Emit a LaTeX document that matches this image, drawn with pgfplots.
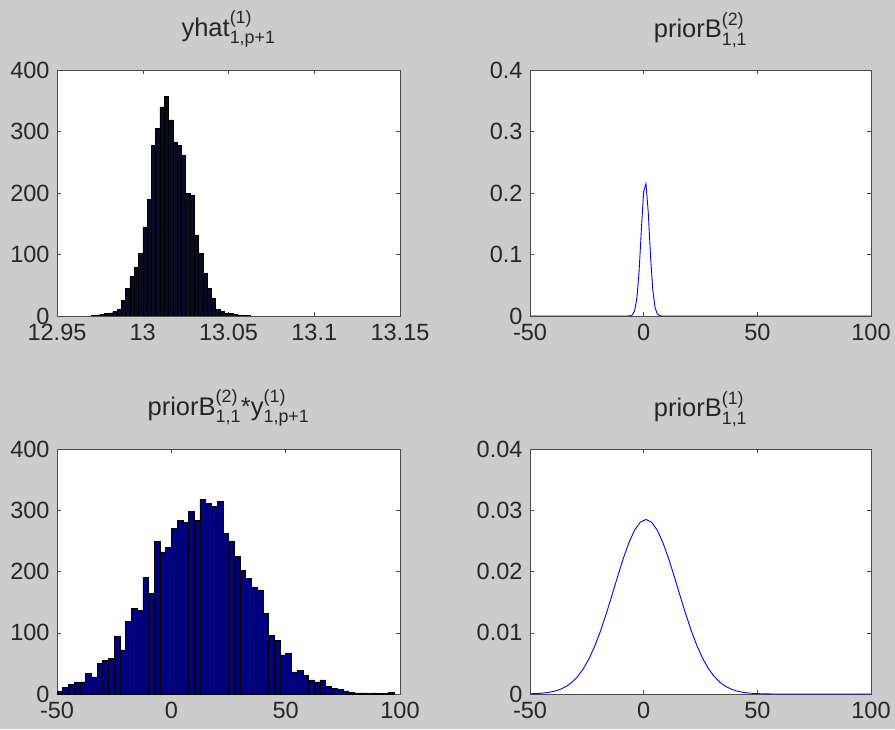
\documentclass[border=0pt]{standalone}
\usepackage{fontspec}
\setmainfont{Liberation Sans}
\usepackage{amsmath}
\usepackage{pgfplots}
\pgfplotsset{compat=1.18}
\definecolor{bg}{RGB}{204,204,204}
\definecolor{navy}{RGB}{0,0,128}
\definecolor{darkbar}{RGB}{10,10,34}
\definecolor{mblue}{RGB}{0,0,255}
\newcommand{\fs}{\fontsize{23.5}{28}\selectfont}
\newcommand{\fst}{\fontsize{25.5}{30}\selectfont}
\pgfplotsset{mat/.style={scale only axis, axis background/.style={fill=white},
  tick align=inside, major tick length=4pt,
  axis line style={black!70,line width=0.6pt},
  every tick/.style={black!70,line width=0.5pt},
  ticklabel style={font=\fs, text=black!85},
  xticklabel style={yshift=-5pt},
  yticklabel style={xshift=-4pt},
  title style={font=\fst, text=black!85, yshift=13pt},
  enlargelimits=false, scaled ticks=false, anchor=south west}}

\begin{document}
\begin{tikzpicture}[x=1pt,y=1pt]
\fill[bg] (0,0) rectangle (895,729);

% top-left histogram
\begin{axis}[mat, at={(57pt,413pt)}, width=343pt, height=246pt,
  xmin=12.95, xmax=13.15, ymin=0, ymax=400,
  xtick={12.95,13,13.05,13.1,13.15}, xticklabels={12.95,13,13.05,13.1,13.15},
  ytick={0,100,200,300,400}, yticklabels={0,100,200,300,400},
  title={yhat$^{\text{(1)}}_{\text{1,p+1}}$}]
\addplot[ybar interval, fill=darkbar, draw=black, line width=0.4pt] coordinates {
(12.9700,1) (12.9725,2) (12.9750,3) (12.9775,4) (12.9800,5) (12.9825,7)
(12.9850,11) (12.9875,26) (12.9900,45) (12.9925,64) (12.9950,80) (12.9975,102)
(13.0000,145) (13.0025,190) (13.0050,278) (13.0075,305) (13.0100,340) (13.0125,357)
(13.0150,319) (13.0175,283) (13.0200,278) (13.0225,262) (13.0250,199) (13.0275,197)
(13.0300,132) (13.0325,102) (13.0350,69) (13.0375,45) (13.0400,29) (13.0425,11)
(13.0450,7) (13.0475,5) (13.0500,4) (13.0525,3) (13.0550,2) (13.0575,1)
(13.0600,1) (13.0625,0)};
\end{axis}

% top-right density
\begin{axis}[mat, at={(530pt,413pt)}, width=341pt, height=246pt,
  xmin=-50, xmax=100, ymin=0, ymax=0.4,
  xtick={-50,0,50,100}, xticklabels={-50,0,50,100},
  ytick={0,0.1,0.2,0.3,0.4}, yticklabels={0,0.1,0.2,0.3,0.4},
  title={priorB$^{\text{(2)}}_{\text{1,1}}$}]
\addplot[mblue, line width=0.9pt] coordinates {
(-50,0) (-7,0.00006) (-6,0.00027) (-5,0.0017) (-4,0.0081) (-3,0.0282) (-2,0.0734)
(-1,0.1416) (0,0.2026) (1,0.2151) (2,0.1694) (3,0.0990) (4,0.0429) (5,0.0138)
(6,0.0033) (7,0.00058) (8,0.00008) (9,0) (100,0)};
\end{axis}

% bottom-left histogram
\begin{axis}[mat, at={(57pt,35pt)}, width=343pt, height=245pt,
  xmin=-50, xmax=100, ymin=0, ymax=400,
  xtick={-50,0,50,100}, xticklabels={-50,0,50,100},
  ytick={0,100,200,300,400}, yticklabels={0,100,200,300,400},
  title={priorB$^{\text{(2)}}_{\text{1,1}}$*y$^{\text{(1)}}_{\text{1,p+1}}$}]
\addplot[ybar interval, fill=navy, draw=black, line width=0.5pt] coordinates {
(-50,4) (-47.5,11) (-45,16) (-42.5,20) (-40,20) (-37.5,34) (-35,28) (-32.5,50)
(-30,55) (-27.5,58) (-25,95) (-22.5,72) (-20,118) (-17.5,140) (-15,137) (-12.5,191)
(-10,164) (-7.5,249) (-5,232) (-2.5,240) (0,270) (2.5,284) (5,280) (7.5,298)
(10,284) (12.5,318) (15,311) (17.5,306) (20,314) (22.5,262) (25,250) (27.5,225)
(30,202) (32.5,189) (35,175) (37.5,170) (40,132) (42.5,96) (45,88) (47.5,64)
(50,66) (52.5,36) (55,39) (57.5,31) (60,23) (62.5,20) (65,23) (67.5,13)
(70,9) (72.5,8) (75,5) (77.5,3) (80,2) (82.5,2) (85,1) (87.5,2)
(90,1) (92.5,1) (95,3) (97.5,0)};
\end{axis}

% bottom-right density
\begin{axis}[mat, at={(530pt,35pt)}, width=341pt, height=245pt,
  xmin=-50, xmax=100, ymin=0, ymax=0.04,
  xtick={-50,0,50,100}, xticklabels={-50,0,50,100},
  ytick={0,0.01,0.02,0.03,0.04}, yticklabels={0,0.01,0.02,0.03,0.04},
  title={priorB$^{\text{(1)}}_{\text{1,1}}$}]
\addplot[mblue, line width=0.9pt] coordinates {
(-50,0.0000380) (-49,0.0000484) (-46.5,0.0000901) (-44,0.000163) (-41.5,0.000284) (-39,0.000481)
(-36.5,0.000789) (-34,0.001252) (-31.5,0.001926) (-29,0.002869) (-26.5,0.004140)
(-24,0.005786) (-21.5,0.007833) (-19,0.010273) (-16.5,0.013048) (-14,0.016053)
(-11.5,0.019131) (-9,0.022082) (-6.5,0.024690) (-4,0.026739) (-1.5,0.028049)
(1,0.028500) (3.5,0.028049) (6,0.026739) (8.5,0.024690) (11,0.022082)
(13.5,0.019131) (16,0.016053) (18.5,0.013048) (21,0.010273) (23.5,0.007833)
(26,0.005786) (28.5,0.004140) (31,0.002869) (33.5,0.001926) (36,0.001252)
(38.5,0.000789) (41,0.000481) (43.5,0.000284) (46,0.000163) (48.5,0.0000901)
(51,0.0000484) (55,0.0000100) (60,0) (100,0)};
\end{axis}

\pgfresetboundingbox
\path (0,0) rectangle (895,729);
\end{tikzpicture}
\end{document}
